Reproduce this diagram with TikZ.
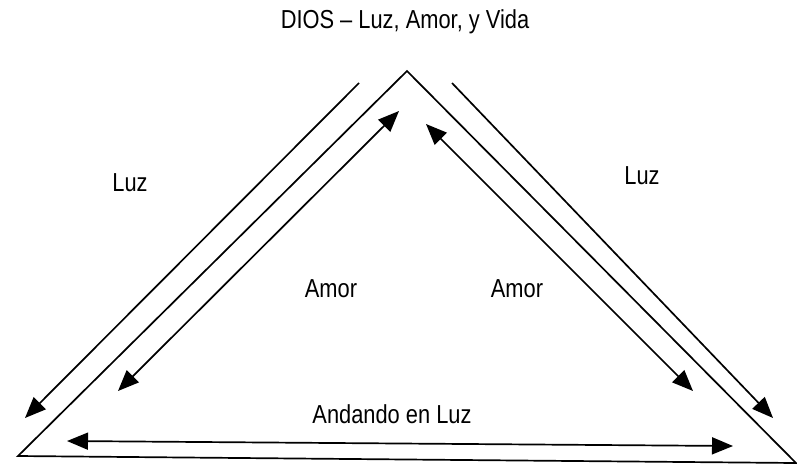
\documentclass[tikz,border=0pt]{standalone}
\usepackage{fontspec}
\setmainfont{Liberation Sans}[FakeStretch=0.84]
\usetikzlibrary{arrows.meta}
\begin{document}
\begin{tikzpicture}[x=1pt,y=-1pt,
  edge/.style={line width=1.7pt, line join=miter},
  tip/.tip={Triangle[length=21pt,width=17pt]},
  arr/.style={line width=1.7pt, -tip},
  darr/.style={line width=1.7pt, tip-tip},
  lbl/.style={font=\fontsize{26}{30}\selectfont, inner sep=0pt, anchor=base}]
\useasboundingbox (0,0) rectangle (797,464);
% triangle corners
\coordinate (A) at (407,71);
\coordinate (BL) at (18,456);
\coordinate (BR) at (796,463);
\draw[edge] (BL) -- (A) -- (BR) -- cycle;
% arrow end points
\coordinate (lo1) at (359,83);  \coordinate (lo2) at (25,418);
\coordinate (li1) at (399,111); \coordinate (li2) at (118,391);
\coordinate (ri1) at (426,124); \coordinate (ri2) at (693,391);
\coordinate (ro1) at (452,83);  \coordinate (ro2) at (773,418);
\coordinate (b1) at (67,441);   \coordinate (b2) at (733,446);
\draw[arr] (lo1) -- (lo2);
\draw[darr] (li1) -- (li2);
\draw[darr] (ri1) -- (ri2);
\draw[arr] (ro1) -- (ro2);
\draw[darr] (b1) -- (b2);
% labels
\node[lbl] (title) at (405,28) {DIOS – Luz, Amor, y Vida};
\node[lbl] (luzl) at (130,191) {Luz};
\node[lbl] (luzr) at (642,184) {Luz};
\node[lbl] (amorl) at (331,297) {Amor};
\node[lbl] (amorr) at (517,297) {Amor};
\node[lbl] (andando) at (392,423) {Andando en Luz};
\end{tikzpicture}
\end{document}
